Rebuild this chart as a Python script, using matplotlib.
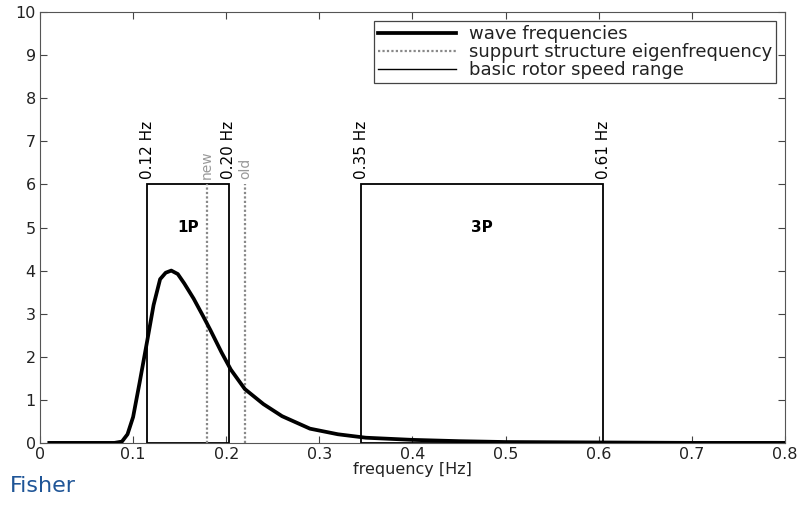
import matplotlib
matplotlib.use("Agg")
import matplotlib.pyplot as plt
from matplotlib.patches import Rectangle
from matplotlib.lines import Line2D

plt.rcParams['font.family'] = ['DejaVu Sans']

# wave spectrum
freq = [0.01, 0.08, 0.088, 0.094, 0.100, 0.107, 0.115, 0.122, 0.129, 0.135,
        0.141, 0.148, 0.155, 0.165, 0.175, 0.183, 0.195, 0.205, 0.22, 0.24,
        0.26, 0.29, 0.32, 0.35, 0.40, 0.45, 0.50, 0.60, 0.70, 0.80]
wave = [0.0, 0.0, 0.03, 0.2, 0.6, 1.4, 2.35, 3.2, 3.8, 3.95,
        4.0, 3.92, 3.7, 3.35, 2.95, 2.62, 2.1, 1.7, 1.25, 0.9,
        0.62, 0.33, 0.2, 0.12, 0.07, 0.04, 0.02, 0.01, 0.0, 0.0]

# rotor speed ranges (1P, 3P)
range_names = ['1P', '3P']
range_lo = [0.115, 0.345]
range_hi = [0.203, 0.605]
range_top = 6
lo_labels = ['0.12 Hz', '0.35 Hz']
hi_labels = ['0.20 Hz', '0.61 Hz']

# support structure eigenfrequencies
eig_names = ['new', 'old']
eig_freq = [0.179, 0.220]

fig = plt.figure(figsize=(8, 5.05), dpi=100)
ax = fig.add_axes([0.05, 0.123, 0.931, 0.853])

for lo, hi, name in zip(range_lo, range_hi, range_names):
    ax.add_patch(Rectangle((lo, 0), hi - lo, range_top, fill=False,
                           edgecolor='black', linewidth=1.3, zorder=2))
    ax.text((lo + hi) / 2, 5.0, name, ha='center', va='center',
            fontsize=11, fontweight='bold')

for lo, hi, l1, l2 in zip(range_lo, range_hi, lo_labels, hi_labels):
    ax.text(lo, range_top + 0.12, l1, rotation=90, ha='center', va='bottom', fontsize=11)
    ax.text(hi, range_top + 0.12, l2, rotation=90, ha='center', va='bottom', fontsize=11)

for f, name in zip(eig_freq, eig_names):
    ax.plot([f, f], [0, range_top], color='#888888', linestyle=(0, (1, 1)),
            linewidth=1.6, zorder=2)
    ax.text(f, range_top + 0.12, name, rotation=90, ha='center', va='bottom',
            fontsize=10, color='#999999')

ax.plot(freq, wave, color='black', linewidth=2.7, zorder=3)

ax.set_xlim(0, 0.8)
ax.set_ylim(0, 10)
ax.set_xticks([0, 0.1, 0.2, 0.3, 0.4, 0.5, 0.6, 0.7, 0.8])
ax.set_xticklabels(['0', '0.1', '0.2', '0.3', '0.4', '0.5', '0.6', '0.7', '0.8'])
ax.set_yticks(range(0, 11))
ax.tick_params(direction='in', top=True, right=True, labelsize=11.5,
               length=5, color='#444444', pad=3, labelcolor='#222222')
for s in ax.spines.values():
    s.set_color('#555555')
ax.set_xlabel('frequency [Hz]', fontsize=11.5, labelpad=0, color='#222222')

handles = [Line2D([], [], color='black', linewidth=2.7),
           Line2D([], [], color='#888888', linestyle=(0, (1, 1)), linewidth=1.6),
           Line2D([], [], color='black', linewidth=1.0)]
leg = ax.legend(handles, ['wave frequencies', 'suppurt structure eigenfrequency',
                          'basic rotor speed range'],
                loc='upper right', bbox_to_anchor=(1, 1), borderaxespad=0.5,
                fontsize=13, fancybox=False, framealpha=1, borderpad=0.22,
                labelspacing=0.0, handlelength=4.3, handletextpad=0.7)
leg.get_frame().set_edgecolor('#444444')
leg.get_frame().set_linewidth(0.9)
for t in leg.get_texts():
    t.set_color('#222222')

fig.text(0.012, 0.025, 'Fisher', fontsize=16, color='#1f5597')

fig.savefig('out.png', dpi=100)
